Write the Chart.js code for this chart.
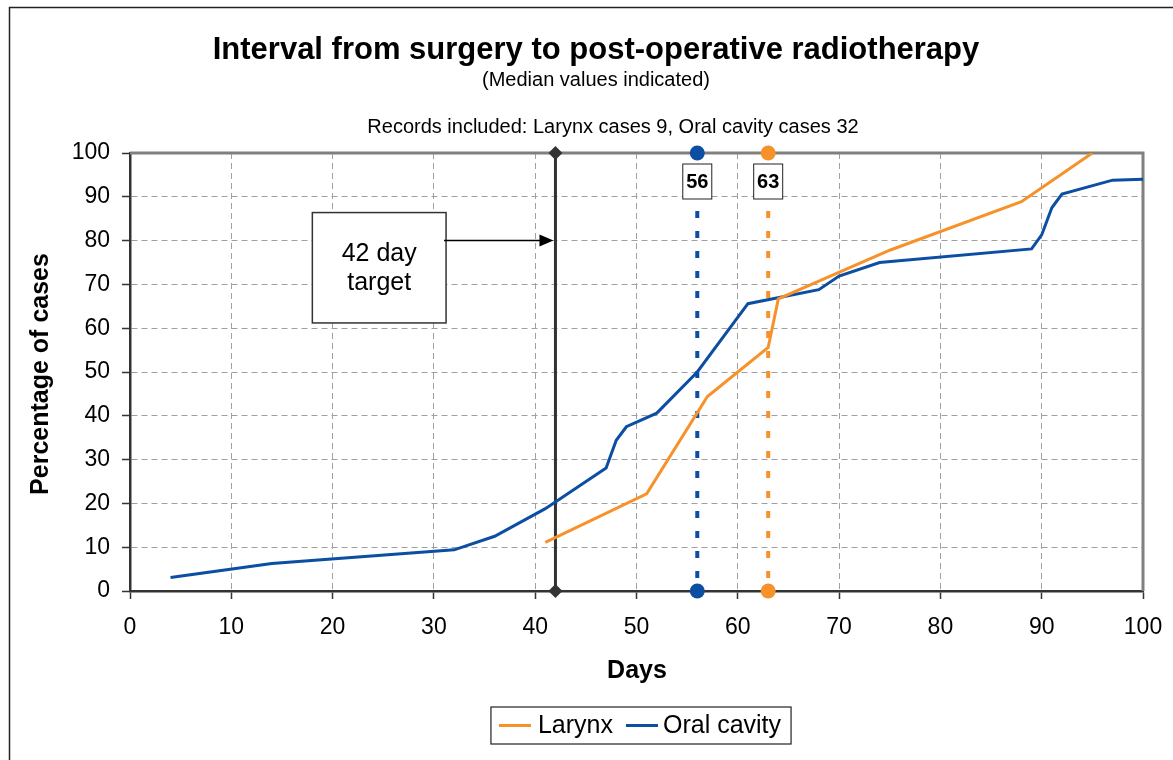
<!DOCTYPE html>
<html>
<head>
<meta charset="utf-8">
<title>Interval from surgery to post-operative radiotherapy</title>
<script src="https://cdn.jsdelivr.net/npm/chart.js@4.4.1/dist/chart.umd.min.js"></script>
<style>
  html, body { margin: 0; padding: 0; background: #fff; }
  #wrap { position: relative; width: 1173px; height: 760px; }
</style>
</head>
<body>
<div id="wrap"><canvas id="chart" width="1173" height="760"></canvas></div>
<script>
// ── Data ───────────────────────────────────────────
const larynxDays = [41, 51, 57, 63, 64, 75, 88, 95];
const larynxPct  = [11.1, 22.2, 44.4, 55.6, 66.7, 77.8, 88.9, 100];
const oralDays = [4, 14, 32, 36, 41, 47, 48, 49, 52, 56, 61, 68, 70, 74, 89, 90, 91, 92, 97, 100];
const oralPct  = [3.1, 6.3, 9.4, 12.5, 18.8, 28.1, 34.4, 37.5, 40.6, 50, 65.6, 68.8, 71.9, 75, 78.1, 81.3, 87.5, 90.6, 93.8, 94];
const seriesNames  = ['Larynx', 'Oral cavity'];
const seriesColors = ['#f7922a', '#0b4ea2'];
const medianDays   = [63, 56];
const targetDay    = 42;
const targetLabel  = ['42 day', 'target'];

const titleText    = 'Interval from surgery to post-operative radiotherapy';
const subtitleText = '(Median values indicated)';
const recordsText  = 'Records included: Larynx cases 9, Oral cavity cases 32';

const FONT = 'Arial, "Liberation Sans", sans-serif';
const toPts = (xs, ys) => xs.map((x, i) => ({ x, y: ys[i] }));

// ── Drawing helpers ────────────────────────────────
const decor = {
  id: 'decor',
  beforeDraw(chart) {
    const ctx = chart.ctx;
    ctx.save();
    ctx.fillStyle = '#fff';
    ctx.fillRect(0, 0, chart.width, chart.height);
    // outer frame
    ctx.strokeStyle = '#222';
    ctx.lineWidth = 1.5;
    ctx.strokeRect(9.5, 7.5, chart.width + 20, chart.height + 20);
    // titles
    ctx.fillStyle = '#000';
    ctx.textAlign = 'center';
    ctx.textBaseline = 'middle';
    ctx.font = 'bold 31px ' + FONT;
    ctx.fillText(titleText, 596, 50);
    ctx.font = '20px ' + FONT;
    ctx.fillText(subtitleText, 596, 80);
    ctx.fillText(recordsText, 613, 127);
    // axis titles
    ctx.font = 'bold 25px ' + FONT;
    ctx.fillText('Days', 637, 671);
    ctx.save();
    ctx.translate(41, 374);
    ctx.rotate(-Math.PI / 2);
    ctx.fillText('Percentage of cases', 0, 0);
    ctx.restore();
    ctx.restore();
  },

  beforeDatasetsDraw(chart) {
    const { ctx, chartArea: a, scales: { x, y } } = chart;
    ctx.save();
    // gray frame on top and right
    ctx.strokeStyle = '#808080';
    ctx.lineWidth = 3;
    ctx.beginPath();
    ctx.moveTo(a.left, a.top);
    ctx.lineTo(a.right, a.top);
    ctx.lineTo(a.right, a.bottom);
    ctx.stroke();

    // median dotted lines
    medianDays.forEach((d, i) => {
      const px = x.getPixelForValue(d);
      ctx.strokeStyle = seriesColors[i];
      ctx.lineWidth = 4;
      ctx.setLineDash([7, 13]);
      ctx.beginPath();
      ctx.moveTo(px, y.getPixelForValue(100) + 58);
      ctx.lineTo(px, y.getPixelForValue(0));
      ctx.stroke();
    });
    ctx.setLineDash([]);

    // 42 day target line
    const tx = x.getPixelForValue(targetDay);
    ctx.strokeStyle = '#333';
    ctx.lineWidth = 3;
    ctx.beginPath();
    ctx.moveTo(tx, y.getPixelForValue(100));
    ctx.lineTo(tx, y.getPixelForValue(0));
    ctx.stroke();
    ctx.restore();
  },

  afterDatasetsDraw(chart) {
    const { ctx, scales: { x, y } } = chart;
    ctx.save();

    // diamonds at ends of target line
    const tx = x.getPixelForValue(targetDay);
    ctx.fillStyle = '#333';
    [100, 0].forEach(v => {
      const py = y.getPixelForValue(v);
      ctx.beginPath();
      ctx.moveTo(tx, py - 7);
      ctx.lineTo(tx + 7, py);
      ctx.lineTo(tx, py + 7);
      ctx.lineTo(tx - 7, py);
      ctx.closePath();
      ctx.fill();
    });

    // median circles and labels
    medianDays.forEach((d, i) => {
      const px = x.getPixelForValue(d);
      ctx.fillStyle = seriesColors[i];
      [100, 0].forEach(v => {
        ctx.beginPath();
        ctx.arc(px, y.getPixelForValue(v), 7.5, 0, Math.PI * 2);
        ctx.fill();
      });
      const top = y.getPixelForValue(100) + 11;
      ctx.fillStyle = '#fff';
      ctx.fillRect(px - 14.5, top, 29, 35);
      ctx.strokeStyle = '#222';
      ctx.lineWidth = 1;
      ctx.strokeRect(px - 14.5, top, 29, 35);
      ctx.fillStyle = '#000';
      ctx.font = 'bold 20px ' + FONT;
      ctx.textAlign = 'center';
      ctx.textBaseline = 'middle';
      ctx.fillText(String(d), px, top + 18);
    });

    // target call-out box
    const bx1 = x.getPixelForValue(18), bx2 = x.getPixelForValue(31.2);
    const by1 = y.getPixelForValue(86.4), by2 = y.getPixelForValue(61.2);
    ctx.fillStyle = '#fff';
    ctx.fillRect(bx1, by1, bx2 - bx1, by2 - by1);
    ctx.strokeStyle = '#333';
    ctx.lineWidth = 1.5;
    ctx.strokeRect(bx1, by1, bx2 - bx1, by2 - by1);
    ctx.fillStyle = '#000';
    ctx.font = '25px ' + FONT;
    ctx.textAlign = 'center';
    ctx.textBaseline = 'middle';
    const cy = (by1 + by2) / 2;
    ctx.fillText(targetLabel[0], (bx1 + bx2) / 2, cy - 14);
    ctx.fillText(targetLabel[1], (bx1 + bx2) / 2, cy + 15);

    // arrow to target line
    const ay = y.getPixelForValue(80);
    const tip = tx - 2;
    ctx.strokeStyle = '#000';
    ctx.lineWidth = 1.5;
    ctx.beginPath();
    ctx.moveTo(bx2 - 2, ay);
    ctx.lineTo(tip - 12, ay);
    ctx.stroke();
    ctx.beginPath();
    ctx.moveTo(tip, ay);
    ctx.lineTo(tip - 14, ay - 6);
    ctx.lineTo(tip - 14, ay + 6);
    ctx.closePath();
    ctx.fill();

    // legend
    ctx.font = '25px ' + FONT;
    ctx.textAlign = 'left';
    const w0 = ctx.measureText(seriesNames[0]).width;
    const w1 = ctx.measureText(seriesNames[1]).width;
    const total = 8 + 32 + 7 + w0 + 13 + 32 + 5 + w1 + 10;
    const lx = 641 - total / 2, ly = 707, lh = 37;
    ctx.strokeStyle = '#222';
    ctx.lineWidth = 1.2;
    ctx.strokeRect(lx, ly, total, lh);
    let cx = lx + 8;
    const my = ly + lh / 2;
    [w0, w1].forEach((w, i) => {
      ctx.strokeStyle = seriesColors[i];
      ctx.lineWidth = 3;
      ctx.beginPath();
      ctx.moveTo(cx, my);
      ctx.lineTo(cx + 32, my);
      ctx.stroke();
      cx += 32 + (i === 0 ? 7 : 5);
      ctx.fillStyle = '#000';
      ctx.fillText(seriesNames[i], cx, my + 1);
      cx += w + 13;
    });

    ctx.restore();
  }
};

// ── Chart ──────────────────────────────────────────
const tickFont = { size: 23, family: FONT };

new Chart(document.getElementById('chart'), {
  type: 'scatter',
  data: {
    datasets: [
      {
        label: seriesNames[0],
        data: toPts(larynxDays, larynxPct),
        borderColor: seriesColors[0],
        backgroundColor: seriesColors[0],
        showLine: true,
        borderWidth: 3,
        pointRadius: 0
      },
      {
        label: seriesNames[1],
        data: toPts(oralDays, oralPct),
        borderColor: seriesColors[1],
        backgroundColor: seriesColors[1],
        showLine: true,
        borderWidth: 3,
        pointRadius: 0
      }
    ]
  },
  options: {
    responsive: false,
    animation: false,
    layout: { padding: { top: 153, right: 30, left: 0, bottom: 109 } },
    plugins: { legend: { display: false }, tooltip: { enabled: false } },
    scales: {
      x: {
        type: 'linear', min: 0, max: 100,
        ticks: { stepSize: 10, color: '#000', font: tickFont, padding: 15, maxRotation: 0 },
        grid: { color: '#a0a0a0', lineWidth: 1, tickColor: '#333', tickLength: 8, tickWidth: 1.5 },
        border: { color: '#333', width: 2.5, dash: [6, 4] },
        afterFit: s => { s.height = 60; s.paddingLeft = 0; s.paddingRight = 0; }
      },
      y: {
        type: 'linear', min: 0, max: 100,
        ticks: { stepSize: 10, color: '#000', font: tickFont, padding: 12 },
        grid: { color: '#a0a0a0', lineWidth: 1, tickColor: '#333', tickLength: 8, tickWidth: 1.5 },
        border: { color: '#333', width: 2.5, dash: [6, 4] },
        afterFit: s => { s.width = 130; s.paddingTop = 0; s.paddingBottom = 0; }
      }
    }
  },
  plugins: [decor]
});
</script>
</body>
</html>
